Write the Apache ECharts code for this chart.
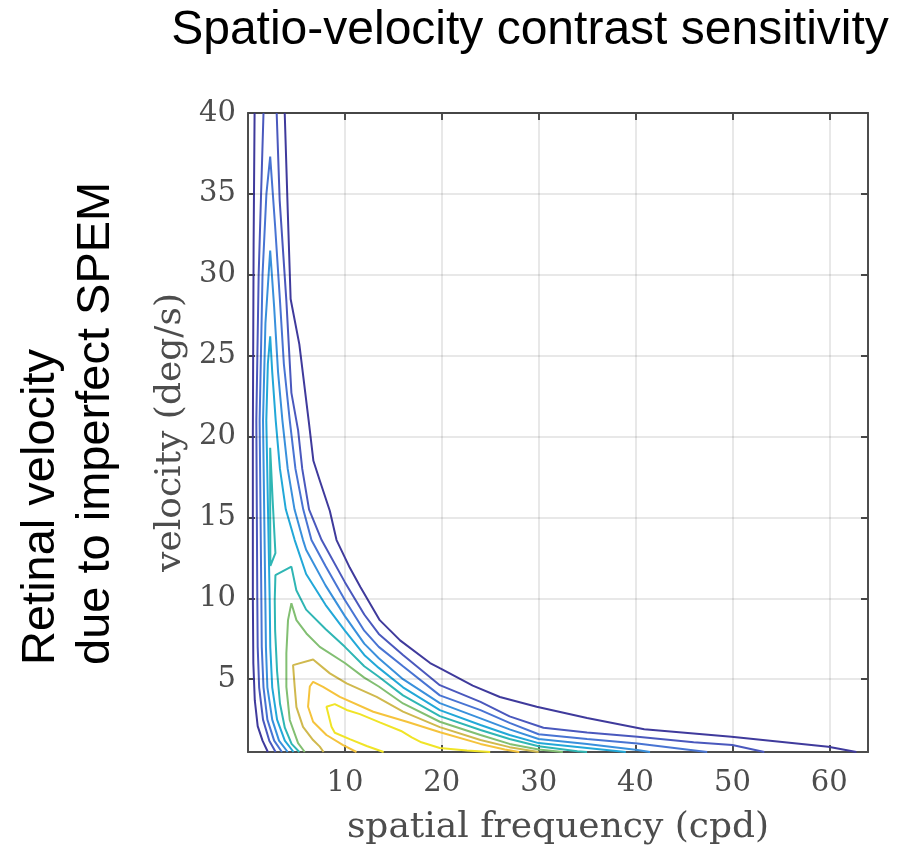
<!DOCTYPE html>
<html><head><meta charset="utf-8">
<script src="https://cdn.jsdelivr.net/npm/echarts@6/dist/echarts.min.js"></script>
<style>html,body{margin:0;padding:0;background:#fff}#c{width:904px;height:854px}</style>
</head><body><div id="c"></div>
<script>
const xTicks = [10,20,30,40,50,60];
const yTicks = [5,10,15,20,25,30,35,40];
const levelColors = ['#3f3a9c','#4a58bd','#4874d3','#3990dc','#22a8d8','#2fb6b4','#82bf72','#d0b94e','#f5c33c','#f0e427'];

const L1_left = [[2.05,0.5],[1.5,1.2],[1.0,2.1],[0.7,3.7],[0.55,6],[0.5,10],[0.5,20],[0.58,32],[0.68,40]];
const L1_right = [[3.79,40],[4.1,34],[4.4,28.5],[5.3,25.7],[6.3,20.8],[6.75,18.5],[7.4,17.3],[8.45,15.4],[9.14,13.6],[10.5,11.9],[11.6,10.7],[13.6,8.65],[15.7,7.4],[18.8,6.0],[19.8,5.68],[23.2,4.6],[26.0,3.9],[29.8,3.3],[35,2.6],[40.9,1.9],[49.9,1.44],[59.9,0.83],[62.8,0.5]];
const L2_left = [[2.85,0.5],[2.2,1.2],[1.55,2.5],[1.15,4.5],[1.0,7],[0.96,9.9],[0.86,21],[1.1,30],[1.6,40]];
const L2_right = [[2.96,40],[3.27,34.6],[3.96,28.4],[4.48,22.7],[5.17,20.4],[5.6,18],[6.3,15.5],[7.6,13.6],[10,11.0],[12,9.0],[13.5,7.8],[16,6.5],[19.8,4.63],[24,3.6],[27,2.7],[30.5,2.0],[35,1.7],[40.2,1.45],[46,1.1],[50,0.93],[53.3,0.5]];
const L3 = [[3.5,0.5],[2.7,1.2],[2.0,2.5],[1.6,4.5],[1.42,7],[1.38,9.9],[1.2,21],[1.5,30],[1.9,35],[2.29,37.3],[2.8,33],[3.3,28.4],[3.7,24.5],[4.31,21.0],[4.9,18],[5.7,15.5],[6.55,13.6],[8,12.0],[10,9.9],[12,8.0],[13.5,7.0],[16,5.8],[19.8,4.0],[24,3.09],[27,2.3],[30,1.6],[35,1.3],[40.2,1.02],[44,0.75],[47.4,0.5]];
const L4 = [[4.1,0.5],[3.2,1.2],[2.5,2.5],[2.0,4.5],[1.85,7],[1.79,9.9],[1.55,21],[1.8,27],[2.29,31.5],[2.7,28],[3.1,24],[3.55,21.0],[4.1,18],[4.8,15.5],[5.68,13.6],[6,13.0],[8,10.8],[10,8.9],[12,7.2],[13.5,6.3],[16,5.0],[19.8,3.52],[24,2.58],[27,1.9],[30,1.3],[35,1.0],[40.2,0.62],[41.5,0.5]];
const L5 = [[4.7,0.5],[3.8,1.2],[3.0,2.5],[2.5,4.5],[2.3,7],[2.24,9.9],[1.89,21],[2.05,24.5],[2.29,26.2],[2.5,24],[2.86,21.0],[3.3,18],[3.9,15.5],[4.82,13.6],[6,11.5],[8,9.6],[10,8.0],[12,6.5],[13.5,5.7],[16,4.5],[19.8,3.09],[24,2.17],[27,1.55],[30,1.05],[35,0.75],[39,0.5]];
const L6_island = [[2.29,19.3],[2.55,16],[2.83,12.8],[2.31,12.0],[2.29,15],[2.29,19.3]];
const L6_main = [[5.3,0.5],[4.5,1.0],[3.8,2.0],[3.3,3.5],[3.0,5.5],[2.8,8],[2.76,9.9],[2.83,11.43],[4.48,11.96],[4.99,10.5],[6,9.3],[8,8.1],[10,7.0],[12,5.8],[13.5,5.15],[16,4.0],[19.8,2.72],[24,1.86],[27,1.3],[30,0.85],[34,0.55],[35,0.5]];
const L7 = [[5.86,0.5],[5.17,1.05],[4.31,2.48],[3.96,4.53],[3.96,6.6],[4.13,8.65],[4.48,9.7],[5.0,8.65],[6.03,7.83],[7.41,7.0],[10,6.0],[12,5.1],[13.5,4.55],[16,3.5],[19.8,2.37],[24,1.55],[27,1.0],[30,0.65],[32.5,0.5]];
const L8 = [[7.8,0.5],[7.41,0.83],[6.72,1.24],[5.68,2.05],[5.0,3.27],[4.82,4.53],[4.65,5.87],[6.72,6.22],[8.45,5.36],[10.18,4.74],[13.28,3.91],[16,3.0],[19.8,2.04],[24,1.24],[27,0.8],[30,0.5]];
const L9 = [[11.2,0.5],[9.82,0.93],[8.1,1.55],[6.72,2.37],[6.2,3.3],[6.38,4.55],[6.72,4.84],[7.75,4.53],[9.48,3.91],[12.93,2.99],[16.4,2.37],[19.83,1.72],[24,1.0],[26.5,0.65],[28,0.5]];
const L10 = [[14.0,0.5],[12.25,0.87],[10.5,1.3],[8.96,1.69],[8.62,2.06],[8.1,3.3],[8.96,3.46],[10.18,3.1],[11.55,2.84],[13.6,2.33],[15.8,1.8],[16.9,1.4],[17.9,1.1],[19.8,0.75],[22.6,0.6],[25,0.5]];

const pieces = [
  [L1_left,0],[L1_right,0],[L2_left,1],[L2_right,1],[L3,2],[L4,3],[L5,4],
  [L6_island,5],[L6_main,5],[L7,6],[L8,7],[L9,8],[L10,9]
];

const chart = echarts.init(document.getElementById('c'), null, {renderer:'canvas'});
const axisColor = '#4d4d4d';
const labelFont = 'DejaVu Serif';
const series = pieces.map(([d,ci]) => ({
  type:'line', data:d, showSymbol:false, symbol:'none', smooth:false,
  lineStyle:{color:levelColors[ci], width:2}, silent:true, animation:false, clip:true, z:3
}));
series.push({
  type:'line', data:[], silent:true, animation:false,
  markLine:{silent:true, symbol:['none','none'], label:{show:false},
    lineStyle:{color:'rgba(0,0,0,0.12)', type:'solid', width:1.5},
    data: yTicks.map(v=>({yAxis:v}))}
});
chart.setOption({
  animation:false,
  backgroundColor:'#fff',
  grid:{left:248, right:36, top:113, bottom:102},
  xAxis:[{
    type:'value', min:0, max:64, interval:10, position:'bottom',
    name:'spatial frequency (cpd)', nameLocation:'middle', nameGap:58,
    nameTextStyle:{fontFamily:labelFont, fontSize:36, color:axisColor},
    axisLine:{show:true, onZero:false, lineStyle:{color:axisColor, width:2}},
    axisTick:{show:true, inside:true, length:7, lineStyle:{color:axisColor, width:2}},
    axisLabel:{fontFamily:labelFont, fontSize:29, color:axisColor, margin:17,
      formatter:v=> xTicks.includes(v) ? String(v) : ''},
    splitLine:{show:true, lineStyle:{color:'rgba(0,0,0,0.12)', width:1.5}}
  },{
    type:'value', min:0, max:64, interval:10, position:'top',
    axisLine:{show:true, onZero:false, lineStyle:{color:axisColor, width:2}},
    axisTick:{show:true, inside:true, length:7, lineStyle:{color:axisColor, width:2}},
    axisLabel:{show:false}, splitLine:{show:false}
  }],
  yAxis:[{
    type:'value', min:0.5, max:40, position:'left',
    name:'velocity (deg/s)', nameLocation:'middle', nameGap:58, nameRotate:90,
    nameTextStyle:{fontFamily:labelFont, fontSize:36, color:axisColor},
    axisLine:{show:true, onZero:false, lineStyle:{color:axisColor, width:2}},
    axisTick:{show:true, inside:true, length:7, customValues:yTicks, lineStyle:{color:axisColor, width:2}},
    axisLabel:{fontFamily:labelFont, fontSize:29, color:axisColor, margin:12, customValues:yTicks},
    splitLine:{show:false}
  },{
    type:'value', min:0.5, max:40, position:'right',
    axisLine:{show:true, onZero:false, lineStyle:{color:axisColor, width:2}},
    axisTick:{show:true, inside:true, length:7, customValues:yTicks, lineStyle:{color:axisColor, width:2}},
    axisLabel:{show:false}, splitLine:{show:false}
  }],
  graphic:[
    {type:'text', x:530, y:31, style:{text:'Spatio-velocity contrast sensitivity', fontFamily:'Liberation Sans', fontSize:48, fill:'#000', textAlign:'center', textVerticalAlign:'middle'}},
    {type:'text', x:41, y:665, rotation:Math.PI/2, style:{text:'Retinal velocity', fontFamily:'Liberation Sans', fontSize:47, fill:'#000', textAlign:'left', textVerticalAlign:'middle'}},
    {type:'text', x:96, y:665, rotation:Math.PI/2, style:{text:'due to imperfect SPEM', fontFamily:'Liberation Sans', fontSize:47, fill:'#000', textAlign:'left', textVerticalAlign:'middle'}}
  ],
  series: series
});
</script></body></html>
